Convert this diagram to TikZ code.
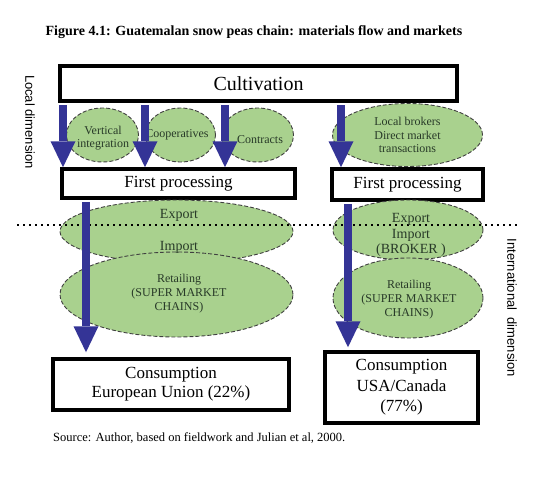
\documentclass[tikz,border=0pt]{standalone}
\usepackage{fontspec}
\setmainfont{Liberation Serif}
\newfontfamily\arialf{Liberation Sans}
\usetikzlibrary{arrows.meta,shapes.geometric}
\definecolor{elgreen}{RGB}{169,209,142}
\definecolor{arrblue}{RGB}{52,52,150}
\definecolor{eltext}{RGB}{40,58,40}
\begin{document}
\begin{tikzpicture}[x=1pt,y=-1pt,
  box/.style={draw=black, line width=3.5pt, fill=white, inner sep=0pt, align=center},
  oval/.style={ellipse, draw=black!75, dash pattern=on 4pt off 2pt, line width=0.9pt, fill=elgreen, inner sep=0pt},
  ovaltext/.style={text=eltext, align=center, inner sep=0pt},
  bigarrow/.style={draw=arrblue, line width=8pt, -{Triangle[width=25pt,length=26pt,line width=0pt]}},
  dotline/.style={draw=black, line width=2.2pt, dash pattern=on 2.2pt off 3.8pt},
  sidelabel/.style={font=\arialf\fontsize{13}{15}\selectfont, inner sep=0pt}
]
\useasboundingbox (0,0) rectangle (555,479);

% title
\node[font=\bfseries\fontsize{14}{16}\selectfont] (title) at (254,32) {Figure 4.1: Guatemalan snow peas chain: materials flow and markets};

% side labels
\node[sidelabel, rotate=-90] (local) at (30,122) {Local dimension};
\node[sidelabel, rotate=-90] (intl) at (512,308) {International\ \ dimension};

% cultivation
\node[box, line width=4pt, minimum width=397pt, minimum height=35pt, font=\fontsize{20}{24}\selectfont] (cult) at (258.5,83.5) {Cultivation};

% first row ellipses
\node[oval, minimum width=72pt, minimum height=54pt] (vi) at (102.5,135) {};
\node[oval, minimum width=70pt, minimum height=54pt] (coop) at (180.5,135) {};
\node[oval, minimum width=72pt, minimum height=54pt] (contr) at (257.5,135) {};
\node[oval, minimum width=150pt, minimum height=63pt] (lb) at (407.5,135) {};
\node[ovaltext, font=\fontsize{12}{13}\selectfont] (vit) at (103,138) {Vertical\\integration};
\node[ovaltext, font=\fontsize{12}{13}\selectfont] (coopt) at (177,135) {Cooperatives};
\node[ovaltext, font=\fontsize{12}{13}\selectfont] (contrt) at (260,140) {Contracts};
\node[ovaltext, font=\fontsize{12}{13.5}\selectfont] (lbt) at (407.5,135) {Local brokers\\Direct market\\transactions};

% first processing
\node[box, minimum width=233pt, minimum height=29pt, font=\fontsize{17}{20}\selectfont] (fpL) at (178.5,183.5) {First processing};
\node[box, minimum width=151pt, minimum height=31pt, font=\fontsize{17}{20}\selectfont] (fpR) at (407.5,184.5) {First processing};

% lower ellipses
\node[oval, minimum width=233pt, minimum height=63pt] (exL) at (176.5,231.5) {};
\node[oval, minimum width=233pt, minimum height=85pt] (retL) at (176.5,294.5) {};
\node[oval, minimum width=150pt, minimum height=60pt] (exR) at (408,230) {};
\node[oval, minimum width=150pt, minimum height=80pt] (retR) at (408,298) {};

% dotted divider
\coordinate (dl) at (17,225);
\coordinate (dr) at (518,225);
\draw[dotline] (dl) -- (dr);

\node[ovaltext, font=\fontsize{14}{16}\selectfont] (exLt) at (179,215) {Export};
\node[ovaltext, font=\fontsize{14}{16}\selectfont] (imLt) at (179,247) {Import};
\node[ovaltext, font=\fontsize{12}{14}\selectfont] (retLt) at (179,294) {Retailing\\(SUPER MARKET\\CHAINS)};
\node[ovaltext, font=\fontsize{14}{15.5}\selectfont] (exRt) at (411,235) {Export\\Import\\(BROKER )};
\node[ovaltext, font=\fontsize{12}{14}\selectfont] (retRt) at (409,300) {Retailing\\(SUPER MARKET\\CHAINS)};

% consumption
\node[box, minimum width=236pt, minimum height=51pt, font=\fontsize{17}{19}\selectfont] (cEU) at (171,384.5) {Consumption\\European Union (22\%)};
\node[box, minimum width=153pt, minimum height=71pt, font=\fontsize{17}{20.5}\selectfont] (cUS) at (401.5,387.5) {Consumption\\USA/Canada\\(77\%)};

% source
\node[anchor=west, inner sep=0pt, font=\fontsize{12.5}{14}\selectfont] (src) at (53,438) {Source: Author, based on fieldwork and Julian et al, 2000.};

% arrows
\coordinate (x1) at (63,0);
\coordinate (x2) at (145,0);
\coordinate (x3) at (225,0);
\coordinate (x4) at (341,0);
\coordinate (x5) at (86,0);
\coordinate (x6) at (348,0);
\draw[bigarrow, shorten <=2pt] (cult.south -| x1) -- (fpL.north -| x1);
\draw[bigarrow, shorten <=2pt] (cult.south -| x2) -- (fpL.north -| x2);
\draw[bigarrow, shorten <=2pt] (cult.south -| x3) -- (fpL.north -| x3);
\draw[bigarrow, shorten <=2pt] (cult.south -| x4) -- (fpR.north -| x4);
\draw[bigarrow, shorten <=2pt, shorten >=5pt] (fpL.south -| x5) -- (cEU.north -| x5);
\draw[bigarrow, shorten <=2pt, shorten >=3pt] (fpR.south -| x6) -- (cUS.north -| x6);
\end{tikzpicture}
\end{document}
